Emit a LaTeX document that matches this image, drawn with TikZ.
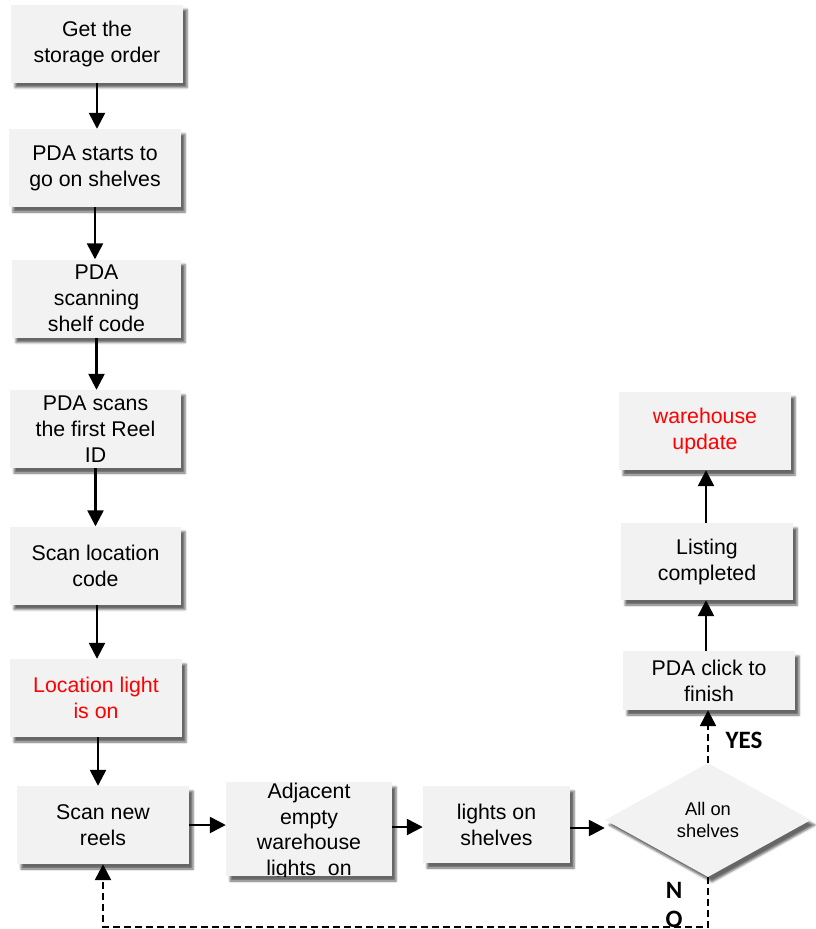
\documentclass[tikz,border=0pt]{standalone}
\usepackage{fontspec}
\setmainfont{Liberation Sans}
\newfontfamily\labfont{Carlito}
\usetikzlibrary{arrows.meta,shapes.geometric,shadows,shadows.blur}
\definecolor{boxfill}{HTML}{F2F2F2}
\definecolor{txtred}{HTML}{FF0000}
\tikzset{
  box/.style={fill=boxfill, minimum width=172pt, minimum height=78pt, inner sep=0pt,
    align=center, font=\fontsize{21.3}{26}\selectfont,
    blur shadow={shadow xshift=4pt, shadow yshift=-5pt, shadow opacity=60}},
  plaintext/.style={inner sep=0pt, align=center, font=\fontsize{21.3}{25.5}\selectfont},
  decision/.style={diamond, fill=boxfill, minimum width=206pt, minimum height=114pt, inner sep=0pt,
    align=center, font=\fontsize{18.3}{21.5}\selectfont,
    blur shadow={shadow xshift=4pt, shadow yshift=-5pt, shadow opacity=60}},
  arr/.style={line width=2.5pt, -{Triangle[length=16pt,width=16pt]}},
  darr/.style={arr, dash pattern=on 7pt off 4pt},
  lab/.style={font=\labfont\bfseries\fontsize{25}{28.5}\selectfont, align=center, inner sep=0pt},
}
\begin{document}
\begin{tikzpicture}[x=1pt,y=-1pt]
\useasboundingbox (0,0) rectangle (815,929);

% left column
\node[box] (b1) at (97,43.5) {Get the\\storage order};
\node[box] (b2) at (95,168) {PDA starts to\\go on shelves};
\node[box, minimum width=169pt] (b3) at (96.5,298.5) {PDA\\scanning\\shelf code};
\node[box, minimum width=171pt] (b4) at (95.5,429) {PDA scans\\the first Reel\\ID};
\node[box, minimum width=171pt] (b5) at (95.5,565.5) {Scan location\\code};
\node[box, text=txtred] (b6) at (96,698) {Location light\\is on};
\node[box] (b7) at (103,825) {Scan new\\reels};

% bottom row
\node[box, minimum width=166pt, minimum height=94pt] (adj) at (309,829) {};
\begin{scope}
  \clip (adj.north west) rectangle (adj.south east);
  \node[plaintext] (adjtxt) at (309,831.5) {Adjacent\\empty\\warehouse\\lights\ \ on};
\end{scope}
\node[box, minimum width=147pt, minimum height=77pt] (lights) at (496.5,824.5) {lights on\\shelves};
\node[decision] (dia) at (708,820) {All on\\shelves};

% right column
\node[box, minimum height=59pt] (fin) at (709,680.5) {PDA click to\\finish};
\node[box, minimum height=77pt] (list) at (707,561.5) {Listing\\completed};
\node[box, text=txtred] (wh) at (705,431) {warehouse\\update};

% labels
\node[lab] (yes) at (744,740) {YES};
\node[lab] (no) at (674,905) {N\\O};

% arrows
\draw[arr] (b1.south) -- (b1.south |- b2.north);
\draw[arr] (b2.south) -- (b2.south |- b3.north);
\draw[arr] (b3.south) -- (b3.south |- b4.north);
\draw[arr] (b4.south) -- (b4.south |- b5.north);
\draw[arr] ([xshift=1.5pt]b5.south) -- ([xshift=1.5pt]b5.south |- b6.north);
\draw[arr] ([xshift=2pt]b6.south) -- ([xshift=2pt]b6.south |- b7.north);
\draw[arr] (b7.east) -- (b7.east -| adj.west);
\draw[arr] ([yshift=-2.5pt]lights.west -| adj.east) -- ([yshift=-2.5pt]lights.west);
\draw[arr] ([yshift=-3.5pt]lights.east) -- ([yshift=-3.5pt]lights.east -| dia.west);
\draw[darr] (dia.north) -- (dia.north |- fin.south);
\draw[arr] ([xshift=-3pt]fin.north) -- ([xshift=-3pt]fin.north |- list.south);
\draw[arr] ([xshift=-1pt]list.north) -- ([xshift=-1pt]list.north |- wh.south);
\draw[darr] (dia.south) -- ++(0,50) coordinate (nocorner) -| (b7.south);
\end{tikzpicture}
\end{document}
